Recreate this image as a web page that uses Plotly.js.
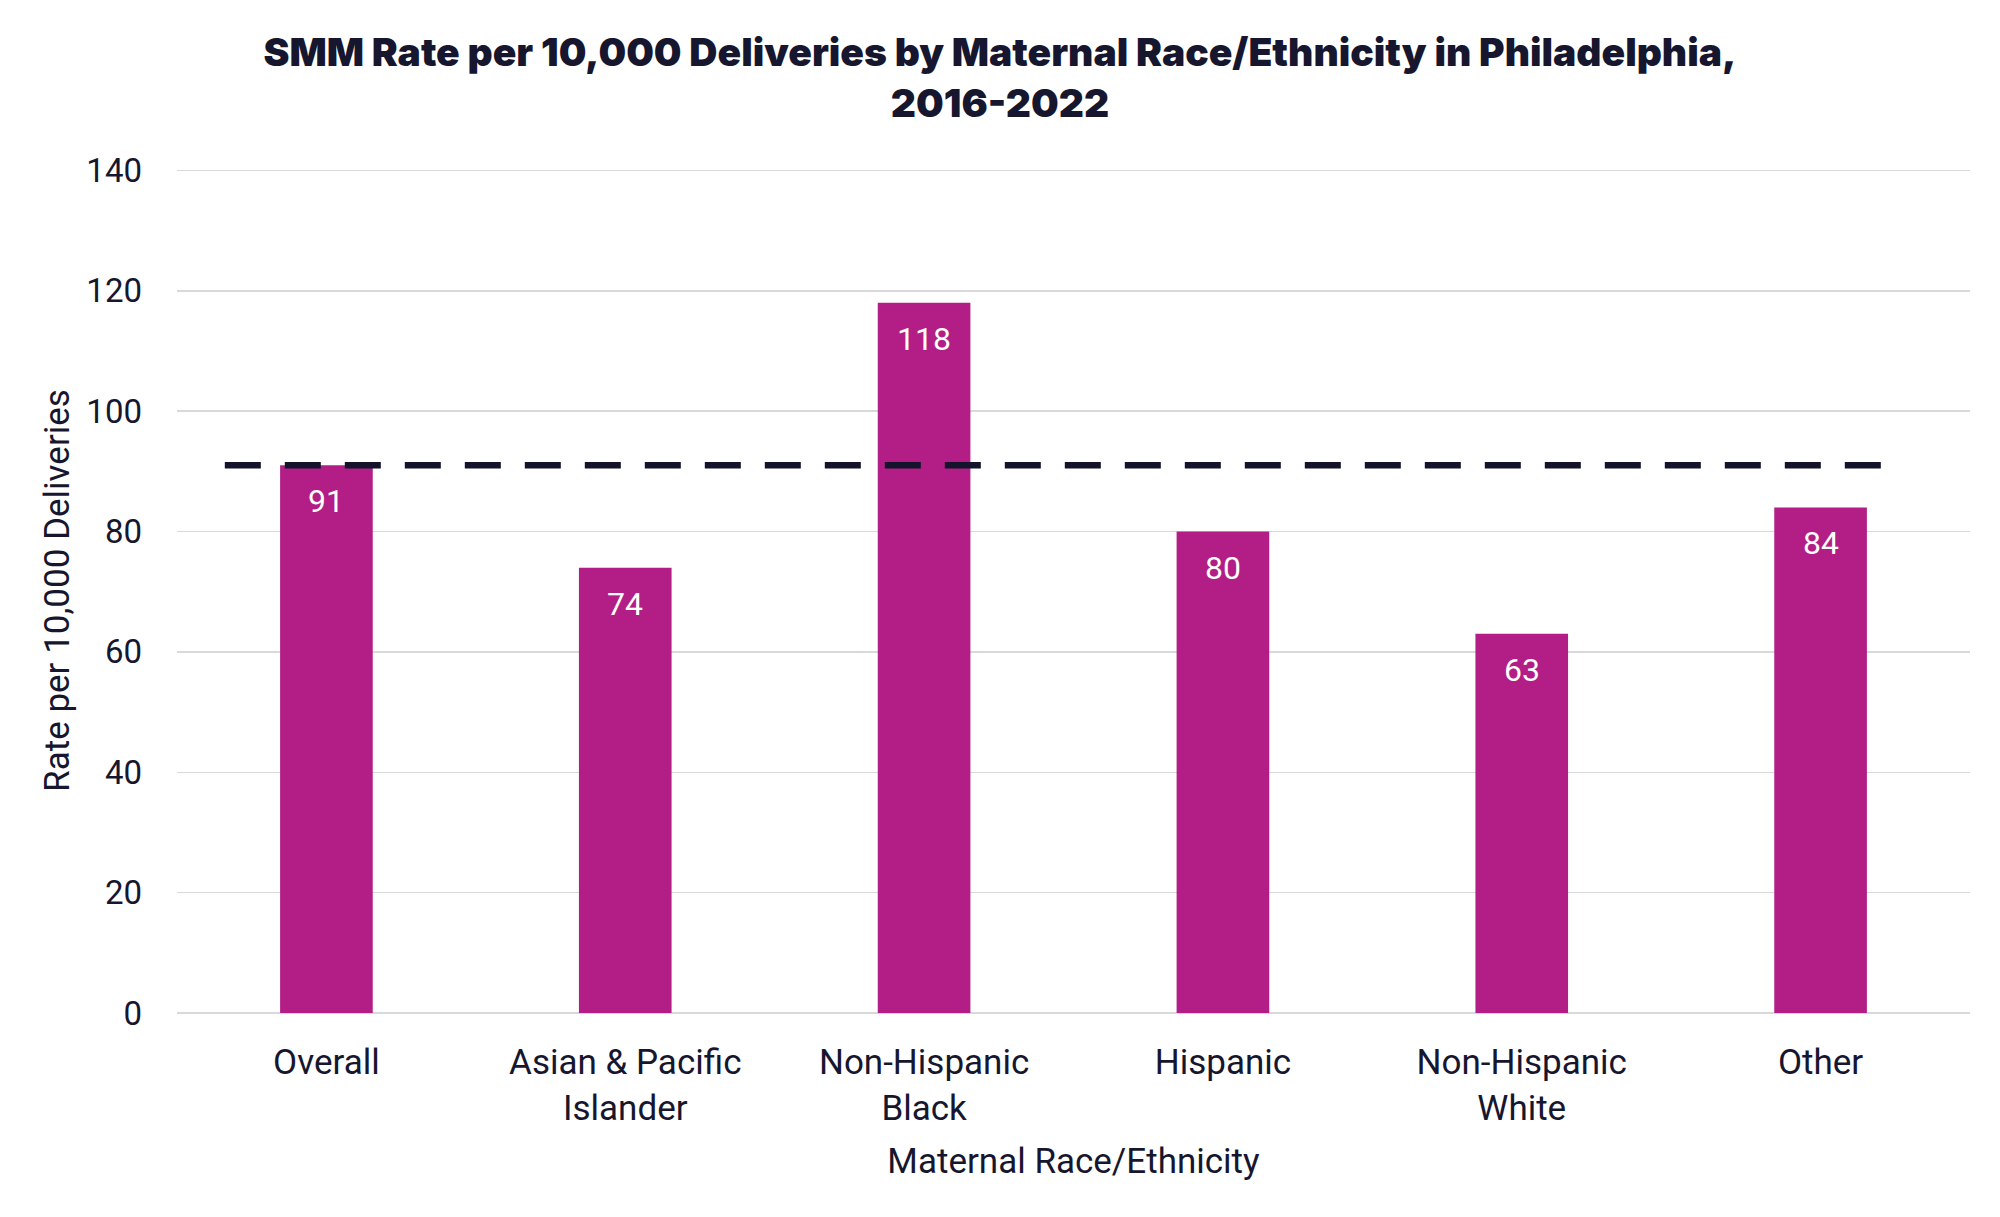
<!DOCTYPE html>
<html>
<head>
<meta charset="utf-8">
<script src="https://cdn.plot.ly/plotly-3.0.1.min.js"></script>
<style>html,body{margin:0;padding:0;background:#fff;}#chart{width:2000px;height:1217px;}</style>
</head>
<body>
<div id="chart"></div>
<script>
const categories = ["Overall", "Asian & Pacific<br>Islander", "Non-Hispanic<br>Black", "Hispanic", "Non-Hispanic<br>White", "Other"];
const rates = [91, 74, 118, 80, 63, 84];
const overallRate = 91;
const yTicks = [0, 20, 40, 60, 80, 100, 120, 140];

const textColor = "#16162e";
const barColor = "#b31e86";
const bodyFont = "Roboto, 'Liberation Sans', sans-serif";

const bars = {
  type: "bar",
  x: categories,
  y: rates,
  marker: {color: barColor},
  hoverinfo: "skip",
  showlegend: false
};

const annotations = categories.map((c, i) => ({
  x: c, y: rates[i], xref: "x", yref: "y",
  text: String(rates[i]),
  showarrow: false,
  yanchor: "middle",
  yshift: -36,
  font: {family: bodyFont, size: 32, color: "#ffffff"}
}));

const layout = {
  width: 2000, height: 1217,
  paper_bgcolor: "#ffffff", plot_bgcolor: "#ffffff",
  margin: {l: 177, r: 30, t: 168, b: 204},
  bargap: 0.69,
  title: {
    text: "SMM Rate per 10,000 Deliveries by Maternal Race/Ethnicity in Philadelphia,<br>2016-2022",
    font: {family: "Inter, Roboto, sans-serif", size: 39, color: textColor, weight: 900},
    x: 0.5, xref: "container", xanchor: "center",
    y: 1 - 66/1217, yref: "container", yanchor: "top"
  },
  xaxis: {
    type: "category",
    range: [-0.5, 5.5],
    showgrid: false, zeroline: false, showline: false,
    ticks: "",
    tickfont: {family: bodyFont, size: 35, color: textColor},
    ticklabelstandoff: 25,
    title: {text: "Maternal Race/Ethnicity", font: {family: bodyFont, size: 35, color: textColor}, standoff: 20}
  },
  yaxis: {
    range: [0, 140.4],
    tickvals: yTicks,
    ticktext: yTicks.map(String),
    showgrid: true, gridcolor: "#d9d9d9", gridwidth: 1.5,
    zeroline: true, zerolinecolor: "#d9d9d9", zerolinewidth: 2,
    showline: false, ticks: "",
    tickfont: {family: bodyFont, size: 33, color: textColor},
    ticklabelstandoff: 34,
    title: {text: "Rate per 10,000 Deliveries", font: {family: bodyFont, size: 35, color: textColor}, standoff: 6}
  },
  shapes: [{
    type: "line", xref: "x", yref: "y",
    x0: -0.34, x1: 5.23, y0: overallRate, y1: overallRate,
    line: {color: "#13132b", width: 6.5, dash: "36px,24px"}
  }],
  annotations: annotations
};

Plotly.newPlot("chart", [bars], layout, {displayModeBar: false, staticPlot: true});
</script>
</body>
</html>
